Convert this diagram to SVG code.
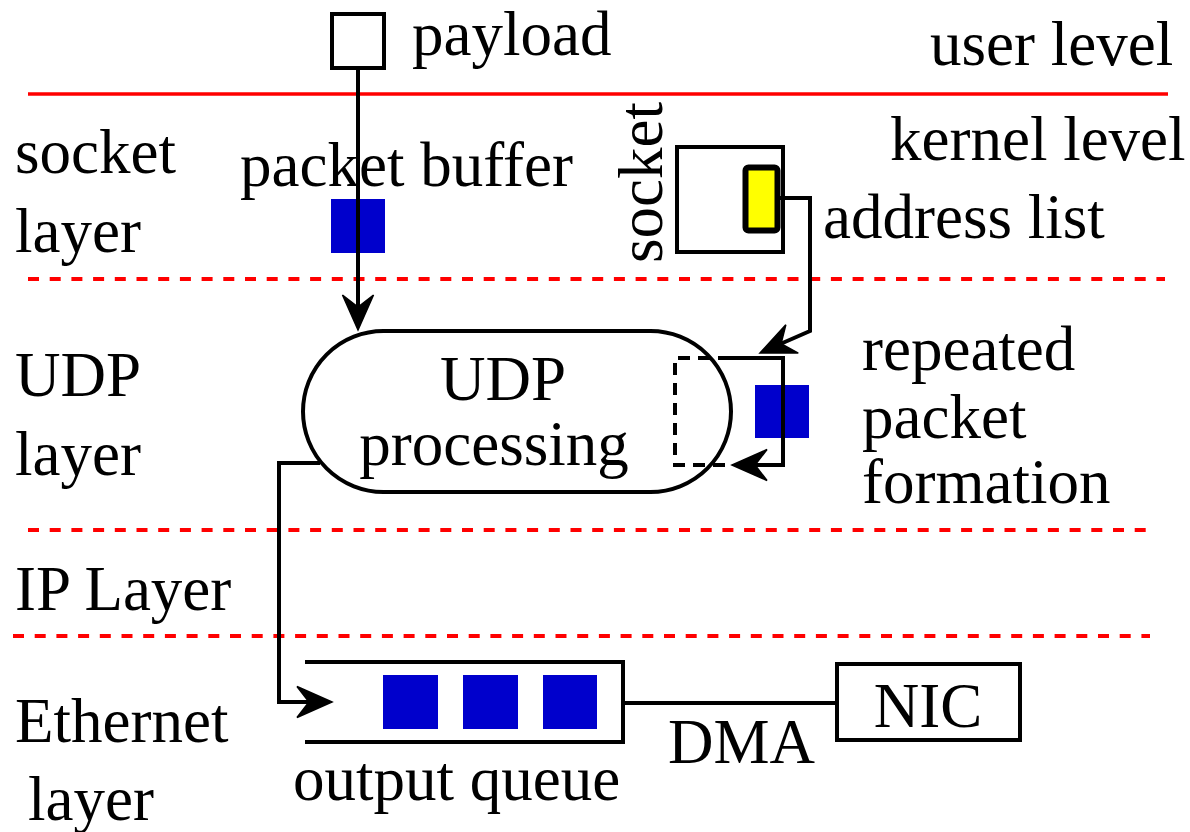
<svg xmlns="http://www.w3.org/2000/svg" xmlns:xlink="http://www.w3.org/1999/xlink" width="1190" height="832" viewBox="0 0 1190 832">
<style>
text{font-family:"Liberation Serif","Times New Roman",serif;font-size:63px;fill:#000}
.ln{fill:none;stroke:#000;stroke-width:4}
.red{fill:none;stroke:#f00;stroke-width:4;stroke-dasharray:11 10.7}
.blue{fill:#0000cc}
.dash{fill:none;stroke:#000;stroke-width:4;stroke-dasharray:12 8}
.ah{fill:#000;stroke:#000;stroke-width:1.5;stroke-linejoin:miter}
</style>
<defs>
<path id="ah" class="ah" d="M0,0 L-35,-15.5 L-23,0 L-35,15.5 Z"/>
</defs>
<rect width="1190" height="832" fill="#fff"/>
<g id="levels">
<line x1="28" y1="94" x2="1168" y2="94" stroke="#f00" stroke-width="3.5"/>
<line class="red" x1="28" y1="279" x2="1165" y2="279"/>
<line class="red" x1="28" y1="530" x2="1155" y2="530"/>
<line class="red" x1="13" y1="636" x2="1150" y2="636"/>
</g>
<g id="labels">
<text x="930" y="65">user level</text>
<text x="890" y="160">kernel level</text>
<text x="15" y="173">socket</text>
<text x="15" y="252">layer</text>
<text x="15" y="396">UDP</text>
<text x="15" y="475">layer</text>
<text x="15" y="610">IP Layer</text>
<text x="15" y="742">Ethernet</text>
<text x="28" y="820">layer</text>
</g>
<g id="payload">
<rect class="ln" x="332" y="14" width="52" height="54"/>
<text x="412" y="55">payload</text>
</g>
<g id="packet-buffer">
<rect class="blue" x="331" y="199" width="54" height="54"/>
<text x="240" y="186">packet buffer</text>
</g>
<g id="socket">
<rect class="ln" x="677" y="147" width="106" height="105"/>
<text transform="translate(662,263) rotate(-90)">socket</text>
</g>
<g id="address-list">
<rect x="745.5" y="167.5" width="32" height="63" rx="3" fill="#ff0" stroke="#000" stroke-width="6"/>
<text x="823" y="238">address list</text>
</g>
<g id="udp-processing">
<rect class="ln" x="303" y="331" width="428" height="161" rx="80.5"/>
<text x="503" y="400" text-anchor="middle">UDP</text>
<text x="494" y="465" text-anchor="middle">processing</text>
</g>
<g id="repeated-packet">
<rect class="blue" x="755" y="385" width="54" height="53"/>
<text x="862" y="370">repeated</text>
<text x="862" y="438">packet</text>
<text x="862" y="503">formation</text>
</g>
<g id="output-queue">
<path class="ln" d="M305,662 H623 V742 H305"/>
<rect class="blue" x="383" y="675" width="55" height="54"/>
<rect class="blue" x="463" y="675" width="55" height="54"/>
<rect class="blue" x="543" y="675" width="54" height="54"/>
<text x="293" y="800">output queue</text>
</g>
<g id="nic">
<rect class="ln" x="837" y="664" width="183" height="76"/>
<text x="928" y="727" text-anchor="middle">NIC</text>
</g>
<g id="connectors">
<path class="ln" d="M358,68 V310"/>
<use xlink:href="#ah" href="#ah" transform="translate(358,330) rotate(90)"/>
<path class="ln" d="M780,198 H810 V331 L778,345"/>
<use xlink:href="#ah" href="#ah" transform="translate(760,353) rotate(156.3)"/>
<path class="dash" d="M730,358 H675 V465 H732"/>
<path class="ln" d="M730,358 H783 V465 H752"/>
<use xlink:href="#ah" href="#ah" transform="translate(732,465) rotate(180)"/>
<path class="ln" d="M320,463 H279 V702 H312"/>
<use xlink:href="#ah" href="#ah" transform="translate(332,702)"/>
<path class="ln" d="M623,703 H837"/>
<text x="668" y="763">DMA</text>
</g>
</svg>
